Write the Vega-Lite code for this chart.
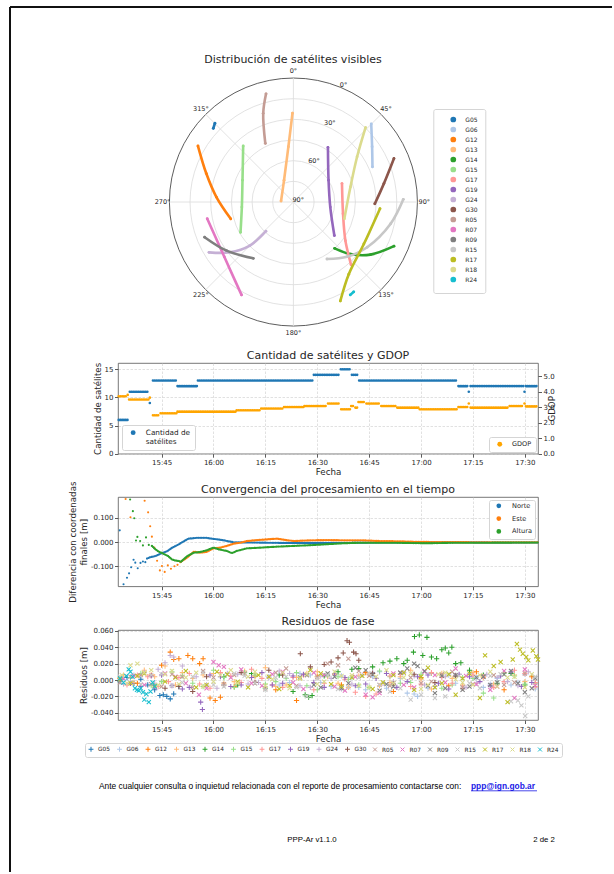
{
"$schema": "https://vega.github.io/schema/vega-lite/v6.json",
"background": "white",
"padding": {"left": 9, "top": 6, "right": 0, "bottom": 0},
"bounds": "flush",
"spacing": 43,
"config": {
 "font": "DejaVu Sans",
 "view": {"stroke": "#555555", "strokeWidth": 0.8},
 "axis": {"labelFontSize": 7, "titleFontSize": 8.7, "titleFontWeight": "normal", "labelColor": "#262626", "titleColor": "#262626", "gridColor": "#cccccc", "gridDash": [2.5, 1.5], "gridWidth": 0.6, "tickColor": "#333333", "tickSize": 3.5, "tickWidth": 0.8, "domain": false, "labelPadding": 1.5, "titlePadding": 2, "labelFlush": false},
 "title": {"fontSize": 11, "fontWeight": "normal", "color": "#262626", "offset": 3, "frame": "group"},
 "legend": {"titleFontSize": 7, "labelFontSize": 7, "labelColor": "#262626", "fillColor": "white", "strokeColor": "#d5d5d5", "cornerRadius": 2, "padding": 4}
},
"resolve": {"scale": {"color": "independent", "stroke": "independent", "shape": "independent"}, "legend": {"color": "independent", "shape": "independent"}},
"datasets": {
 "rings": [{"z": 15}, {"z": 30}, {"z": 45}, {"z": 60}, {"z": 75}, {"z": 90}],
 "spokes": [{"az": 0}, {"az": 45}, {"az": 90}, {"az": 135}],
 "alab": [{"t": "0°", "az": 0}, {"t": "45°", "az": 45}, {"t": "90°", "az": 90}, {"t": "135°", "az": 135}, {"t": "180°", "az": 180}, {"t": "225°", "az": 225}, {"t": "270°", "az": 270}, {"t": "315°", "az": 315}],
 "elab": [{"t": "0°", "el": 0}, {"t": "30°", "el": 30}, {"t": "60°", "el": 60}, {"t": "90°", "el": 90}],
 "tracks": [
  {"s":"G05","i":0,"az":312.6,"el":11},{"s":"G05","i":1,"az":315.1,"el":9.3},
  {"s":"G06","i":0,"az":44.9,"el":10},{"s":"G06","i":1,"az":54.9,"el":20.2},{"s":"G06","i":2,"az":66.0,"el":27.2},
  {"s":"G12","i":0,"az":300.4,"el":9.7},{"s":"G12","i":1,"az":288.1,"el":23.5},{"s":"G12","i":2,"az":273.7,"el":34},{"s":"G12","i":3,"az":255.0,"el":42.9},
  {"s":"G13","i":0,"az":359.4,"el":25.5},{"s":"G13","i":1,"az":354.8,"el":49.7},{"s":"G13","i":2,"az":336.7,"el":72.8},{"s":"G13","i":3,"az":274.6,"el":81},
  {"s":"G14","i":0,"az":138.3,"el":45},{"s":"G14","i":1,"az":132.4,"el":34},{"s":"G14","i":2,"az":124.3,"el":22.3},{"s":"G14","i":3,"az":113.7,"el":10.3},
  {"s":"G15","i":0,"az":318.1,"el":35.4},{"s":"G15","i":1,"az":293.2,"el":49.8},{"s":"G15","i":2,"az":264.4,"el":52.4},{"s":"G15","i":3,"az":240.3,"el":45.8},
  {"s":"G17","i":0,"az":69.2,"el":52.3},{"s":"G17","i":1,"az":103.3,"el":53},{"s":"G17","i":2,"az":126.6,"el":43},{"s":"G17","i":3,"az":137.4,"el":28.2},
  {"s":"G19","i":0,"az":32.3,"el":43.1},{"s":"G19","i":1,"az":58.2,"el":60},{"s":"G19","i":2,"az":97.8,"el":63},{"s":"G19","i":3,"az":129.3,"el":51.6},
  {"s":"G24","i":0,"az":223.3,"el":60.9},{"s":"G24","i":1,"az":225,"el":45.3},{"s":"G24","i":2,"az":231.7,"el":31.1},{"s":"G24","i":3,"az":239.2,"el":18.7},
  {"s":"G30","i":0,"az":66.6,"el":10.5},{"s":"G30","i":1,"az":78.5,"el":23},{"s":"G30","i":2,"az":91.2,"el":30.9},
  {"s":"R05","i":0,"az":345.8,"el":9},{"s":"R05","i":1,"az":341.2,"el":22},{"s":"R05","i":2,"az":334.4,"el":42.8},
  {"s":"R07","i":0,"az":259,"el":26.3},{"s":"R07","i":1,"az":231.6,"el":26},{"s":"R07","i":2,"az":209.2,"el":12.8},
  {"s":"R09","i":0,"az":248.4,"el":20.7},{"s":"R09","i":1,"az":234,"el":30},{"s":"R09","i":2,"az":215.5,"el":39.8},
  {"s":"R15","i":0,"az":88.6,"el":10.2},{"s":"R15","i":1,"az":102.6,"el":17.7},{"s":"R15","i":2,"az":121.5,"el":27.2},{"s":"R15","i":3,"az":135.5,"el":34.4},{"s":"R15","i":4,"az":149.5,"el":42},
  {"s":"R17","i":0,"az":94.4,"el":27},{"s":"R17","i":1,"az":120.8,"el":30.5},{"s":"R17","i":2,"az":142.5,"el":24},{"s":"R17","i":3,"az":154.6,"el":10.6},
  {"s":"R18","i":0,"az":44.1,"el":14.8},{"s":"R18","i":1,"az":54.6,"el":33.3},{"s":"R18","i":2,"az":75.2,"el":47.2},{"s":"R18","i":3,"az":108.2,"el":51.1},
  {"s":"R24","i":0,"az":148.5,"el":11},{"s":"R24","i":1,"az":146.1,"el":11.5}
 ],
 "count": [
  {"m":932.6,"m2":935.5,"n":6},{"m":935.8,"m2":941.2,"n":11},{"m":941.6,"m2":941.6,"n":9},{"m":942.5,"m2":949.3,"n":13},
  {"m":949.6,"m2":955.2,"n":12},{"m":955.5,"m2":988.7,"n":13},{"m":989.0,"m2":996.5,"n":14},{"m":996.8,"m2":999.6,"n":15},
  {"m":1000.0,"m2":1001.8,"n":14},{"m":1002.1,"m2":1030.5,"n":13},{"m":1030.8,"m2":1033.5,"n":12},{"m":1033.8,"m2":1033.8,"n":11},
  {"m":1034.3,"m2":1049.6,"n":12},{"m":1049.9,"m2":1049.9,"n":11},{"m":1050.3,"m2":1053.8,"n":12}
 ],
 "gdop": [
  {"m":932.6,"m2":934.9,"g":3.71},{"m":935.2,"m2":935.2,"g":3.8},{"m":935.6,"m2":941.2,"g":3.5},{"m":941.6,"m2":941.6,"g":3.62},
  {"m":942.5,"m2":944.4,"g":2.48},{"m":944.7,"m2":949.3,"g":2.61},{"m":949.6,"m2":966.4,"g":2.72},{"m":966.7,"m2":973.5,"g":2.81},
  {"m":973.8,"m2":980.1,"g":2.92},{"m":980.4,"m2":986.0,"g":3.02},{"m":986.3,"m2":992.8,"g":3.08},{"m":993.1,"m2":996.6,"g":3.24},
  {"m":996.9,"m2":999.5,"g":2.87},{"m":999.8,"m2":1000.8,"g":3.08},{"m":1001.0,"m2":1001.6,"g":2.98},{"m":1001.9,"m2":1003.9,"g":3.34},
  {"m":1004.2,"m2":1008.2,"g":3.24},{"m":1008.5,"m2":1012.8,"g":3.08},{"m":1013.1,"m2":1019.3,"g":2.98},{"m":1019.6,"m2":1030.5,"g":2.87},
  {"m":1030.8,"m2":1033.5,"g":3.02},{"m":1033.8,"m2":1033.8,"g":3.24},{"m":1034.3,"m2":1045.3,"g":2.98},{"m":1045.6,"m2":1049.6,"g":3.08},
  {"m":1049.9,"m2":1049.9,"g":3.24},{"m":1050.3,"m2":1053.8,"g":3.06}
 ],
 "convp": [
  {"c":"Norte","m":932.9,"v":0.048},{"c":"Norte","m":934.0,"v":-0.174},{"c":"Norte","m":935.0,"v":-0.147},{"c":"Norte","m":935.6,"v":-0.129},
  {"c":"Norte","m":936.2,"v":-0.104},{"c":"Norte","m":936.9,"v":-0.073},{"c":"Norte","m":937.4,"v":-0.085},{"c":"Norte","m":938.1,"v":-0.108},
  {"c":"Norte","m":938.9,"v":-0.086},{"c":"Norte","m":939.6,"v":-0.08},{"c":"Norte","m":940.3,"v":-0.083},
  {"c":"Este","m":934.6,"v":0.177},{"c":"Este","m":936.0,"v":0.102},{"c":"Este","m":940.1,"v":0.17},{"c":"Este","m":941.1,"v":0.122},
  {"c":"Este","m":941.7,"v":0.065},{"c":"Este","m":942.2,"v":0.022},{"c":"Este","m":942.9,"v":-0.023},{"c":"Este","m":943.7,"v":-0.077},
  {"c":"Este","m":944.5,"v":-0.117},{"c":"Este","m":945.1,"v":-0.099},{"c":"Este","m":945.9,"v":-0.123},{"c":"Este","m":946.8,"v":-0.096},
  {"c":"Este","m":947.7,"v":-0.11},{"c":"Este","m":948.7,"v":-0.1},{"c":"Este","m":949.6,"v":-0.094},{"c":"Este","m":950.4,"v":-0.083},
  {"c":"Altura","m":935.9,"v":0.175},{"c":"Altura","m":936.7,"v":0.127},{"c":"Altura","m":937.1,"v":0.098},{"c":"Altura","m":937.6,"v":0.006},
  {"c":"Altura","m":938.0,"v":0.021},{"c":"Altura","m":938.8,"v":0.004},{"c":"Altura","m":939.6,"v":-0.014},{"c":"Altura","m":940.5,"v":0.019},
  {"c":"Altura","m":941.3,"v":-0.012}
 ],
 "convl": [
  {"c":"Norte","m":940.8,"v":-0.068},{"c":"Norte","m":941.8,"v":-0.062},{"c":"Norte","m":943.2,"v":-0.058},{"c":"Norte","m":944.6,"v":-0.049},
  {"c":"Norte","m":946.6,"v":-0.038},{"c":"Norte","m":948.0,"v":-0.024},{"c":"Norte","m":949.9,"v":-0.01},{"c":"Norte","m":951.4,"v":0.003},
  {"c":"Norte","m":952.8,"v":0.014},{"c":"Norte","m":955.2,"v":0.017},{"c":"Norte","m":958.1,"v":0.017},{"c":"Norte","m":960.0,"v":0.013},
  {"c":"Norte","m":962.9,"v":0.007},{"c":"Norte","m":965.8,"v":-0.001},{"c":"Norte","m":970.6,"v":-0.002},{"c":"Norte","m":975.5,"v":-0.003},
  {"c":"Norte","m":981.2,"v":-0.004},{"c":"Norte","m":990,"v":-0.004},{"c":"Norte","m":1000,"v":-0.003},{"c":"Norte","m":1010,"v":-0.002},
  {"c":"Norte","m":1020,"v":-0.001},{"c":"Norte","m":1030,"v":-0.001},{"c":"Norte","m":1040,"v":-0.002},{"c":"Norte","m":1053.8,"v":-0.002},
  {"c":"Este","m":950.6,"v":-0.081},{"c":"Este","m":952.4,"v":-0.064},{"c":"Este","m":954.3,"v":-0.04},{"c":"Este","m":956.2,"v":-0.044},
  {"c":"Este","m":958.1,"v":-0.04},{"c":"Este","m":960.0,"v":-0.026},{"c":"Este","m":962.0,"v":-0.023},{"c":"Este","m":963.9,"v":-0.016},
  {"c":"Este","m":965.8,"v":-0.007},{"c":"Este","m":967.8,"v":-0.003},{"c":"Este","m":969.7,"v":0.004},{"c":"Este","m":972.6,"v":0.008},
  {"c":"Este","m":975.5,"v":0.011},{"c":"Este","m":978.4,"v":0.014},{"c":"Este","m":981.0,"v":0.008},{"c":"Este","m":983.2,"v":0.004},
  {"c":"Este","m":988,"v":0.007},{"c":"Este","m":993,"v":0.008},{"c":"Este","m":998,"v":0.007},{"c":"Este","m":1003,"v":0.007},
  {"c":"Este","m":1008,"v":0.004},{"c":"Este","m":1013,"v":0.003},{"c":"Este","m":1018,"v":0.001},{"c":"Este","m":1023,"v":0.0},
  {"c":"Este","m":1035,"v":-0.001},{"c":"Este","m":1053.8,"v":-0.001},
  {"c":"Altura","m":942.2,"v":-0.016},{"c":"Altura","m":943.2,"v":-0.03},{"c":"Altura","m":944.2,"v":-0.04},{"c":"Altura","m":945.1,"v":-0.045},
  {"c":"Altura","m":945.9,"v":-0.051},{"c":"Altura","m":946.9,"v":-0.058},{"c":"Altura","m":948.0,"v":-0.072},{"c":"Altura","m":948.9,"v":-0.076},
  {"c":"Altura","m":949.9,"v":-0.078},{"c":"Altura","m":950.6,"v":-0.081},{"c":"Altura","m":952.4,"v":-0.058},{"c":"Altura","m":954.3,"v":-0.044},
  {"c":"Altura","m":956.2,"v":-0.041},{"c":"Altura","m":958.1,"v":-0.034},{"c":"Altura","m":960.0,"v":-0.023},{"c":"Altura","m":961.5,"v":-0.03},
  {"c":"Altura","m":963.9,"v":-0.037},{"c":"Altura","m":965.3,"v":-0.046},{"c":"Altura","m":966.7,"v":-0.037},{"c":"Altura","m":969.7,"v":-0.026},
  {"c":"Altura","m":973.6,"v":-0.023},{"c":"Altura","m":978.4,"v":-0.019},{"c":"Altura","m":983.2,"v":-0.016},{"c":"Altura","m":988,"v":-0.013},
  {"c":"Altura","m":992.8,"v":-0.009},{"c":"Altura","m":997.6,"v":-0.005},{"c":"Altura","m":1002.4,"v":-0.003},{"c":"Altura","m":1012,"v":-0.003},
  {"c":"Altura","m":1021.6,"v":-0.005},{"c":"Altura","m":1030,"v":-0.003},{"c":"Altura","m":1040,"v":-0.003},{"c":"Altura","m":1053.8,"v":-0.002}
 ],
 "res": [
  {"s":"G05","m":933,"r":-0.002},{"s":"G05","m":935,"r":0.003},{"s":"G05","m":937,"r":-0.004},{"s":"G05","m":939,"r":0.001},{"s":"G05","m":941,"r":-0.006},{"s":"G05","m":943,"r":-0.012},{"s":"G05","m":944.5,"r":-0.019},{"s":"G05","m":945.5,"r":-0.018},{"s":"G05","m":946.5,"r":-0.02},{"s":"G05","m":947.5,"r":-0.023},{"s":"G05","m":948.5,"r":-0.017},{"s":"G05","m":950,"r":-0.008},
  {"s":"G06","m":976,"r":0.004},{"s":"G06","m":982,"r":-0.003},{"s":"G06","m":988,"r":0.006},{"s":"G06","m":994,"r":-0.008},{"s":"G06","m":1000,"r":0.003},{"s":"G06","m":1004,"r":-0.012},{"s":"G06","m":1008,"r":0.01},{"s":"G06","m":1012,"r":-0.006},{"s":"G06","m":1016,"r":-0.016},{"s":"G06","m":1019,"r":-0.02},{"s":"G06","m":1022,"r":-0.01},{"s":"G06","m":1026,"r":0.005},{"s":"G06","m":1030,"r":-0.004},{"s":"G06","m":1034,"r":0.008},{"s":"G06","m":1038,"r":-0.009},{"s":"G06","m":1042,"r":0.002},{"s":"G06","m":1046,"r":-0.006},{"s":"G06","m":1050,"r":0.007},{"s":"G06","m":1053,"r":-0.011},
  {"s":"G06","m":979,"r":-0.006},{"s":"G06","m":985,"r":0.008},{"s":"G06","m":991,"r":-0.003},{"s":"G06","m":997,"r":0.005},{"s":"G06","m":1002,"r":-0.009},{"s":"G06","m":1006,"r":0.004},{"s":"G06","m":1010,"r":-0.01},{"s":"G06","m":1014,"r":0.002},{"s":"G06","m":1018,"r":-0.017},{"s":"G06","m":1024,"r":-0.008},{"s":"G06","m":1028,"r":0.006},{"s":"G06","m":1032,"r":-0.007},{"s":"G06","m":1036,"r":0.003},{"s":"G06","m":1040,"r":-0.005},{"s":"G06","m":1044,"r":0.009},{"s":"G06","m":1048,"r":-0.003},{"s":"G06","m":1052,"r":0.005},
  {"s":"G12","m":933,"r":0.002},{"s":"G12","m":938,"r":-0.004},{"s":"G12","m":942,"r":0.006},{"s":"G12","m":945,"r":0.018},{"s":"G12","m":947.5,"r":0.034},{"s":"G12","m":948.5,"r":0.025},{"s":"G12","m":950,"r":0.026},{"s":"G12","m":952.6,"r":0.03},{"s":"G12","m":954,"r":0.026},{"s":"G12","m":956,"r":0.02},{"s":"G12","m":957,"r":0.026},{"s":"G12","m":959,"r":-0.022},{"s":"G12","m":960.5,"r":-0.025},{"s":"G12","m":962,"r":-0.021},{"s":"G12","m":966,"r":-0.008},{"s":"G12","m":972,"r":0.005},{"s":"G12","m":978,"r":-0.012},{"s":"G12","m":984,"r":-0.025},{"s":"G12","m":990,"r":0.004},{"s":"G12","m":997,"r":-0.006},{"s":"G12","m":1004,"r":0.009},{"s":"G12","m":1012,"r":-0.014},{"s":"G12","m":1020,"r":0.003},{"s":"G12","m":1028,"r":-0.007},{"s":"G12","m":1036,"r":0.01},{"s":"G12","m":1044,"r":-0.012},{"s":"G12","m":1052,"r":0.004},
  {"s":"G13","m":934,"r":0.006},{"s":"G13","m":940,"r":0.012},{"s":"G13","m":946,"r":0.017},{"s":"G13","m":951,"r":0.009},{"s":"G13","m":957,"r":0.006},{"s":"G13","m":963,"r":-0.004},{"s":"G13","m":969,"r":0.011},{"s":"G13","m":975,"r":0.015},{"s":"G13","m":981,"r":-0.006},{"s":"G13","m":987,"r":0.008},{"s":"G13","m":993,"r":0.004},{"s":"G13","m":999,"r":-0.009},{"s":"G13","m":1005,"r":0.007},{"s":"G13","m":1011,"r":-0.003},{"s":"G13","m":1017,"r":0.012},{"s":"G13","m":1023,"r":-0.011},{"s":"G13","m":1029,"r":0.002},{"s":"G13","m":1035,"r":0.009},{"s":"G13","m":1041,"r":-0.005},{"s":"G13","m":1047,"r":0.006},{"s":"G13","m":1053,"r":-0.008},
  {"s":"G13","m":937,"r":-0.003},{"s":"G13","m":943,"r":0.004},{"s":"G13","m":949,"r":-0.006},{"s":"G13","m":954,"r":0.002},{"s":"G13","m":960,"r":0.008},{"s":"G13","m":966,"r":-0.002},{"s":"G13","m":972,"r":0.005},{"s":"G13","m":978,"r":-0.008},{"s":"G13","m":984,"r":0.003},{"s":"G13","m":990,"r":0.01},{"s":"G13","m":996,"r":-0.004},{"s":"G13","m":1002,"r":0.005},{"s":"G13","m":1008,"r":-0.007},{"s":"G13","m":1014,"r":0.004},{"s":"G13","m":1020,"r":0.001},{"s":"G13","m":1026,"r":0.008},{"s":"G13","m":1032,"r":-0.006},{"s":"G13","m":1038,"r":0.003},{"s":"G13","m":1044,"r":0.009},{"s":"G13","m":1050,"r":-0.002},
  {"s":"G14","m":963,"r":0.004},{"s":"G14","m":967,"r":-0.006},{"s":"G14","m":971,"r":0.008},{"s":"G14","m":975,"r":-0.01},{"s":"G14","m":979,"r":0.006},{"s":"G14","m":983,"r":-0.014},{"s":"G14","m":986.5,"r":-0.018},{"s":"G14","m":987.5,"r":-0.021},{"s":"G14","m":988.5,"r":-0.019},{"s":"G14","m":992,"r":0.005},{"s":"G14","m":996,"r":0.01},{"s":"G14","m":1000,"r":0.013},{"s":"G14","m":1002,"r":0.014},{"s":"G14","m":1006,"r":0.016},{"s":"G14","m":1009,"r":0.021},{"s":"G14","m":1011,"r":0.023},{"s":"G14","m":1013,"r":0.026},{"s":"G14","m":1015,"r":0.02},{"s":"G14","m":1016,"r":0.024},{"s":"G14","m":1017.8,"r":0.034},{"s":"G14","m":1018.1,"r":0.053},{"s":"G14","m":1019.5,"r":0.055},{"s":"G14","m":1020.5,"r":0.03},{"s":"G14","m":1021.7,"r":0.052},{"s":"G14","m":1023,"r":0.028},{"s":"G14","m":1024.5,"r":0.026},{"s":"G14","m":1026,"r":0.037},{"s":"G14","m":1027,"r":0.039},{"s":"G14","m":1028,"r":0.033},{"s":"G14","m":1028.9,"r":0.04},{"s":"G14","m":1030,"r":0.02},{"s":"G14","m":1031.5,"r":0.021},{"s":"G14","m":1034,"r":0.012},{"s":"G14","m":1038,"r":0.006},{"s":"G14","m":1042,"r":-0.004},{"s":"G14","m":1046,"r":0.008},{"s":"G14","m":1050,"r":-0.006},
  {"s":"G15","m":936,"r":0.003},{"s":"G15","m":942,"r":-0.007},{"s":"G15","m":948,"r":0.01},{"s":"G15","m":954,"r":-0.004},{"s":"G15","m":960,"r":0.012},{"s":"G15","m":966,"r":-0.009},{"s":"G15","m":972,"r":0.006},{"s":"G15","m":978,"r":-0.002},{"s":"G15","m":984,"r":0.009},{"s":"G15","m":990,"r":-0.012},{"s":"G15","m":996,"r":0.004},{"s":"G15","m":1002,"r":-0.006},{"s":"G15","m":1008,"r":0.011},{"s":"G15","m":1014,"r":-0.004},{"s":"G15","m":1020,"r":0.007},{"s":"G15","m":1026,"r":-0.01},{"s":"G15","m":1032,"r":0.003},{"s":"G15","m":1038,"r":-0.016},{"s":"G15","m":1041,"r":-0.022},{"s":"G15","m":1044,"r":0.008},{"s":"G15","m":1050,"r":-0.005},
  {"s":"G15","m":939,"r":0.008},{"s":"G15","m":945,"r":-0.002},{"s":"G15","m":951,"r":0.005},{"s":"G15","m":957,"r":-0.008},{"s":"G15","m":963,"r":0.003},{"s":"G15","m":969,"r":0.009},{"s":"G15","m":975,"r":-0.005},{"s":"G15","m":981,"r":0.002},{"s":"G15","m":987,"r":-0.007},{"s":"G15","m":993,"r":0.006},{"s":"G15","m":999,"r":0.001},{"s":"G15","m":1005,"r":-0.009},{"s":"G15","m":1011,"r":0.004},{"s":"G15","m":1017,"r":-0.003},{"s":"G15","m":1023,"r":0.008},{"s":"G15","m":1029,"r":-0.006},{"s":"G15","m":1035,"r":0.002},{"s":"G15","m":1047,"r":0.005},{"s":"G15","m":1053,"r":-0.004},
  {"s":"G17","m":935,"r":-0.006},{"s":"G17","m":941,"r":0.004},{"s":"G17","m":947,"r":-0.002},{"s":"G17","m":953,"r":0.008},{"s":"G17","m":959,"r":-0.01},{"s":"G17","m":965,"r":0.005},{"s":"G17","m":971,"r":0.013},{"s":"G17","m":977,"r":-0.006},{"s":"G17","m":983,"r":0.003},{"s":"G17","m":989,"r":-0.012},{"s":"G17","m":995,"r":0.007},{"s":"G17","m":1001,"r":-0.015},{"s":"G17","m":1004,"r":-0.02},{"s":"G17","m":1007,"r":-0.017},{"s":"G17","m":1011,"r":0.005},{"s":"G17","m":1017,"r":-0.008},{"s":"G17","m":1023,"r":0.009},{"s":"G17","m":1029,"r":-0.004},{"s":"G17","m":1035,"r":0.006},{"s":"G17","m":1041,"r":-0.009},{"s":"G17","m":1047,"r":0.012},{"s":"G17","m":1053,"r":-0.003},
  {"s":"G17","m":938,"r":0.006},{"s":"G17","m":944,"r":-0.008},{"s":"G17","m":950,"r":0.003},{"s":"G17","m":956,"r":-0.005},{"s":"G17","m":962,"r":0.009},{"s":"G17","m":968,"r":-0.003},{"s":"G17","m":974,"r":0.002},{"s":"G17","m":980,"r":-0.009},{"s":"G17","m":986,"r":0.006},{"s":"G17","m":992,"r":-0.004},{"s":"G17","m":998,"r":0.001},{"s":"G17","m":1014,"r":0.007},{"s":"G17","m":1020,"r":-0.005},{"s":"G17","m":1026,"r":0.003},{"s":"G17","m":1032,"r":-0.01},{"s":"G17","m":1038,"r":0.004},{"s":"G17","m":1044,"r":-0.002},{"s":"G17","m":1050,"r":0.008},
  {"s":"G19","m":933.5,"r":0.001},{"s":"G19","m":939,"r":-0.008},{"s":"G19","m":945,"r":0.006},{"s":"G19","m":951,"r":-0.011},{"s":"G19","m":953,"r":-0.009},{"s":"G19","m":956.3,"r":-0.027},{"s":"G19","m":956.8,"r":-0.036},{"s":"G19","m":962,"r":0.004},{"s":"G19","m":968,"r":-0.006},{"s":"G19","m":974,"r":0.009},{"s":"G19","m":980,"r":-0.004},{"s":"G19","m":986,"r":0.007},{"s":"G19","m":992,"r":-0.009},{"s":"G19","m":998,"r":0.003},{"s":"G19","m":1004,"r":-0.005},{"s":"G19","m":1010,"r":0.008},{"s":"G19","m":1016,"r":-0.002},{"s":"G19","m":1022,"r":0.006},{"s":"G19","m":1028,"r":-0.011},{"s":"G19","m":1034,"r":0.004},{"s":"G19","m":1040,"r":-0.007},{"s":"G19","m":1046,"r":0.01},{"s":"G19","m":1052,"r":-0.003},
  {"s":"G19","m":936,"r":-0.004},{"s":"G19","m":942,"r":0.005},{"s":"G19","m":948,"r":-0.007},{"s":"G19","m":959,"r":0.006},{"s":"G19","m":965,"r":-0.008},{"s":"G19","m":971,"r":0.003},{"s":"G19","m":977,"r":-0.006},{"s":"G19","m":983,"r":0.005},{"s":"G19","m":989,"r":-0.003},{"s":"G19","m":995,"r":0.008},{"s":"G19","m":1001,"r":-0.007},{"s":"G19","m":1007,"r":0.002},{"s":"G19","m":1013,"r":-0.009},{"s":"G19","m":1019,"r":0.004},{"s":"G19","m":1025,"r":-0.004},{"s":"G19","m":1031,"r":0.007},{"s":"G19","m":1037,"r":-0.002},{"s":"G19","m":1043,"r":0.005},{"s":"G19","m":1049,"r":-0.008},
  {"s":"G24","m":934,"r":-0.005},{"s":"G24","m":940,"r":0.009},{"s":"G24","m":944,"r":0.013},{"s":"G24","m":946,"r":0.021},{"s":"G24","m":947.5,"r":0.03},{"s":"G24","m":948.5,"r":0.028},{"s":"G24","m":951,"r":0.017},{"s":"G24","m":955,"r":0.004},{"s":"G24","m":961,"r":-0.01},{"s":"G24","m":967,"r":0.007},{"s":"G24","m":973,"r":-0.003},{"s":"G24","m":979,"r":0.011},{"s":"G24","m":985,"r":-0.007},{"s":"G24","m":991,"r":0.005},{"s":"G24","m":997,"r":-0.011},{"s":"G24","m":1003,"r":0.006},{"s":"G24","m":1009,"r":-0.004},{"s":"G24","m":1015,"r":0.009},{"s":"G24","m":1021,"r":-0.006},{"s":"G24","m":1027,"r":0.004},{"s":"G24","m":1033,"r":-0.009},{"s":"G24","m":1039,"r":0.007},{"s":"G24","m":1045,"r":-0.002},{"s":"G24","m":1051,"r":0.01},
  {"s":"G24","m":937,"r":0.006},{"s":"G24","m":943,"r":-0.004},{"s":"G24","m":958,"r":-0.006},{"s":"G24","m":964,"r":0.008},{"s":"G24","m":970,"r":-0.005},{"s":"G24","m":976,"r":0.003},{"s":"G24","m":982,"r":0.008},{"s":"G24","m":988,"r":-0.009},{"s":"G24","m":994,"r":0.002},{"s":"G24","m":1000,"r":-0.005},{"s":"G24","m":1006,"r":0.009},{"s":"G24","m":1012,"r":-0.002},{"s":"G24","m":1018,"r":0.005},{"s":"G24","m":1024,"r":-0.008},{"s":"G24","m":1030,"r":0.006},{"s":"G24","m":1036,"r":-0.004},{"s":"G24","m":1042,"r":0.003},{"s":"G24","m":1048,"r":-0.007},
  {"s":"G30","m":946,"r":-0.01},{"s":"G30","m":950,"r":-0.008},{"s":"G30","m":954,"r":-0.014},{"s":"G30","m":958,"r":0.004},{"s":"G30","m":963,"r":-0.006},{"s":"G30","m":968,"r":0.009},{"s":"G30","m":972,"r":-0.003},{"s":"G30","m":976,"r":0.012},{"s":"G30","m":980,"r":0.006},{"s":"G30","m":985.1,"r":0.032},{"s":"G30","m":988,"r":0.016},{"s":"G30","m":992,"r":0.019},{"s":"G30","m":994,"r":0.022},{"s":"G30","m":996,"r":0.027},{"s":"G30","m":997.5,"r":0.033},{"s":"G30","m":998.6,"r":0.048},{"s":"G30","m":999.3,"r":0.046},{"s":"G30","m":1000.5,"r":0.034},{"s":"G30","m":1001.2,"r":0.032},{"s":"G30","m":1002,"r":0.024},{"s":"G30","m":1006,"r":0.008},{"s":"G30","m":1012,"r":-0.005},{"s":"G30","m":1018,"r":0.007},{"s":"G30","m":1024,"r":-0.003},{"s":"G30","m":1030,"r":0.005},
  {"s":"R05","m":933,"r":-0.003},{"s":"R05","m":939,"r":0.006},{"s":"R05","m":945,"r":-0.008},{"s":"R05","m":951,"r":0.004},{"s":"R05","m":957,"r":0.011},{"s":"R05","m":963,"r":-0.005},{"s":"R05","m":969,"r":0.008},{"s":"R05","m":975,"r":-0.01},{"s":"R05","m":981,"r":0.014},{"s":"R05","m":987,"r":0.006},{"s":"R05","m":993,"r":0.02},{"s":"R05","m":996,"r":0.018},{"s":"R05","m":999,"r":0.026},{"s":"R05","m":1002,"r":0.011},{"s":"R05","m":1008,"r":-0.006},{"s":"R05","m":1014,"r":0.009},{"s":"R05","m":1020,"r":-0.004},{"s":"R05","m":1026,"r":0.007},{"s":"R05","m":1032,"r":-0.009},{"s":"R05","m":1038,"r":0.004},{"s":"R05","m":1044,"r":-0.006},{"s":"R05","m":1050,"r":0.008},
  {"s":"R05","m":936,"r":0.004},{"s":"R05","m":942,"r":-0.005},{"s":"R05","m":948,"r":0.007},{"s":"R05","m":954,"r":-0.009},{"s":"R05","m":960,"r":0.003},{"s":"R05","m":966,"r":0.006},{"s":"R05","m":972,"r":-0.004},{"s":"R05","m":978,"r":0.009},{"s":"R05","m":984,"r":-0.007},{"s":"R05","m":990,"r":0.004},{"s":"R05","m":1005,"r":0.005},{"s":"R05","m":1011,"r":-0.007},{"s":"R05","m":1017,"r":0.003},{"s":"R05","m":1023,"r":-0.002},{"s":"R05","m":1029,"r":0.01},{"s":"R05","m":1035,"r":-0.005},{"s":"R05","m":1041,"r":0.006},{"s":"R05","m":1047,"r":-0.003},
  {"s":"R07","m":934,"r":0.002},{"s":"R07","m":940,"r":-0.006},{"s":"R07","m":946,"r":0.008},{"s":"R07","m":952,"r":-0.004},{"s":"R07","m":955.8,"r":-0.018},{"s":"R07","m":960,"r":0.022},{"s":"R07","m":961.5,"r":0.018},{"s":"R07","m":963,"r":0.016},{"s":"R07","m":968,"r":0.013},{"s":"R07","m":974,"r":-0.007},{"s":"R07","m":980,"r":0.01},{"s":"R07","m":986,"r":-0.011},{"s":"R07","m":992,"r":0.006},{"s":"R07","m":998,"r":-0.013},{"s":"R07","m":1004,"r":-0.018},{"s":"R07","m":1006,"r":-0.021},{"s":"R07","m":1008,"r":-0.016},{"s":"R07","m":1012,"r":0.008},{"s":"R07","m":1018,"r":-0.009},{"s":"R07","m":1024,"r":0.006},{"s":"R07","m":1030,"r":0.014},{"s":"R07","m":1036,"r":-0.005},{"s":"R07","m":1040,"r":-0.012},{"s":"R07","m":1044,"r":0.011},{"s":"R07","m":1047,"r":-0.022},{"s":"R07","m":1050,"r":0.013},{"s":"R07","m":1053,"r":-0.007},
  {"s":"R07","m":937,"r":0.005},{"s":"R07","m":943,"r":-0.009},{"s":"R07","m":949,"r":0.004},{"s":"R07","m":958,"r":-0.01},{"s":"R07","m":965,"r":0.003},{"s":"R07","m":971,"r":-0.004},{"s":"R07","m":977,"r":0.007},{"s":"R07","m":983,"r":-0.003},{"s":"R07","m":989,"r":0.009},{"s":"R07","m":995,"r":-0.008},{"s":"R07","m":1001,"r":0.004},{"s":"R07","m":1015,"r":-0.006},{"s":"R07","m":1021,"r":0.01},{"s":"R07","m":1027,"r":-0.003},{"s":"R07","m":1033,"r":0.005},{"s":"R07","m":1042,"r":-0.008},
  {"s":"R09","m":985,"r":0.003},{"s":"R09","m":989,"r":-0.006},{"s":"R09","m":993,"r":0.008},{"s":"R09","m":997,"r":-0.01},{"s":"R09","m":1001,"r":0.015},{"s":"R09","m":1004,"r":0.012},{"s":"R09","m":1008,"r":-0.013},{"s":"R09","m":1012,"r":-0.008},{"s":"R09","m":1016,"r":0.014},{"s":"R09","m":1018,"r":0.02},{"s":"R09","m":1019,"r":0.017},{"s":"R09","m":1021,"r":0.011},{"s":"R09","m":1024,"r":-0.016},{"s":"R09","m":1027,"r":-0.01},{"s":"R09","m":1030,"r":0.006},{"s":"R09","m":1034,"r":-0.008},{"s":"R09","m":1038,"r":0.004},{"s":"R09","m":1042,"r":-0.003},{"s":"R09","m":1046,"r":0.011},{"s":"R09","m":1050,"r":-0.015},{"s":"R09","m":1053,"r":0.002},
  {"s":"R09","m":987,"r":0.006},{"s":"R09","m":991,"r":-0.009},{"s":"R09","m":995,"r":0.004},{"s":"R09","m":999,"r":-0.004},{"s":"R09","m":1006,"r":0.007},{"s":"R09","m":1010,"r":-0.005},{"s":"R09","m":1014,"r":0.009},{"s":"R09","m":1022,"r":-0.007},{"s":"R09","m":1026,"r":0.005},{"s":"R09","m":1032,"r":-0.012},{"s":"R09","m":1036,"r":0.003},{"s":"R09","m":1040,"r":-0.006},{"s":"R09","m":1044,"r":0.007},{"s":"R09","m":1048,"r":-0.004},{"s":"R09","m":1052,"r":-0.01},
  {"s":"R15","m":933,"r":0.004},{"s":"R15","m":939,"r":-0.005},{"s":"R15","m":945,"r":0.007},{"s":"R15","m":951,"r":-0.003},{"s":"R15","m":957,"r":0.009},{"s":"R15","m":963,"r":-0.008},{"s":"R15","m":969,"r":0.005},{"s":"R15","m":975,"r":-0.012},{"s":"R15","m":981,"r":0.004},{"s":"R15","m":987,"r":-0.02},{"s":"R15","m":993,"r":0.006},{"s":"R15","m":999,"r":-0.009},{"s":"R15","m":1005,"r":0.008},{"s":"R15","m":1011,"r":-0.014},{"s":"R15","m":1017,"r":-0.024},{"s":"R15","m":1020,"r":-0.018},{"s":"R15","m":1024,"r":-0.022},{"s":"R15","m":1027,"r":-0.02},{"s":"R15","m":1031,"r":0.005},{"s":"R15","m":1037,"r":-0.01},{"s":"R15","m":1043,"r":0.007},{"s":"R15","m":1046,"r":-0.026},{"s":"R15","m":1048,"r":-0.025},{"s":"R15","m":1049,"r":-0.031},{"s":"R15","m":1050.1,"r":-0.044},{"s":"R15","m":1051,"r":-0.02},{"s":"R15","m":1053,"r":0.004},
  {"s":"R15","m":936,"r":-0.003},{"s":"R15","m":942,"r":0.006},{"s":"R15","m":948,"r":-0.007},{"s":"R15","m":954,"r":0.004},{"s":"R15","m":960,"r":-0.006},{"s":"R15","m":966,"r":0.008},{"s":"R15","m":972,"r":-0.004},{"s":"R15","m":978,"r":0.003},{"s":"R15","m":984,"r":-0.009},{"s":"R15","m":990,"r":0.002},{"s":"R15","m":996,"r":-0.011},{"s":"R15","m":1002,"r":0.003},{"s":"R15","m":1008,"r":-0.006},{"s":"R15","m":1014,"r":-0.01},{"s":"R15","m":1034,"r":-0.004},{"s":"R15","m":1040,"r":0.005},
  {"s":"R17","m":933,"r":0.001},{"s":"R17","m":936,"r":-0.004},{"s":"R17","m":940,"r":0.008},{"s":"R17","m":946,"r":-0.002},{"s":"R17","m":952,"r":0.011},{"s":"R17","m":958,"r":-0.006},{"s":"R17","m":964,"r":0.007},{"s":"R17","m":970,"r":-0.009},{"s":"R17","m":976,"r":0.004},{"s":"R17","m":982,"r":-0.007},{"s":"R17","m":988,"r":0.012},{"s":"R17","m":994,"r":-0.005},{"s":"R17","m":1000,"r":0.003},{"s":"R17","m":1006,"r":-0.011},{"s":"R17","m":1012,"r":0.006},{"s":"R17","m":1018,"r":-0.012},{"s":"R17","m":1022,"r":0.015},{"s":"R17","m":1026,"r":-0.004},{"s":"R17","m":1030,"r":-0.018},{"s":"R17","m":1034,"r":0.008},{"s":"R17","m":1037,"r":-0.022},{"s":"R17","m":1038.5,"r":0.03},{"s":"R17","m":1041,"r":0.017},{"s":"R17","m":1043,"r":0.022},{"s":"R17","m":1045,"r":-0.027},{"s":"R17","m":1046.5,"r":0.025},{"s":"R17","m":1047.7,"r":0.044},{"s":"R17","m":1048.6,"r":0.037},{"s":"R17","m":1049.4,"r":0.032},{"s":"R17","m":1050.4,"r":0.028},{"s":"R17","m":1051,"r":0.024},{"s":"R17","m":1052.3,"r":0.036},{"s":"R17","m":1053.3,"r":0.029},{"s":"R17","m":1053.8,"r":0.025},
  {"s":"R17","m":938,"r":0.005},{"s":"R17","m":943,"r":-0.007},{"s":"R17","m":949,"r":0.003},{"s":"R17","m":955,"r":-0.009},{"s":"R17","m":961,"r":0.01},{"s":"R17","m":967,"r":-0.002},{"s":"R17","m":973,"r":0.006},{"s":"R17","m":979,"r":-0.011},{"s":"R17","m":985,"r":0.002},{"s":"R17","m":991,"r":0.008},{"s":"R17","m":997,"r":-0.008},{"s":"R17","m":1003,"r":0.005},{"s":"R17","m":1009,"r":-0.003},{"s":"R17","m":1015,"r":0.009},{"s":"R17","m":1020,"r":0.004},{"s":"R17","m":1024,"r":-0.009},{"s":"R17","m":1028,"r":0.007},{"s":"R17","m":1032,"r":0.002},
  {"s":"R18","m":933.5,"r":0.006},{"s":"R18","m":936,"r":0.018},{"s":"R18","m":938,"r":0.02},{"s":"R18","m":942,"r":0.012},{"s":"R18","m":946,"r":0.007},{"s":"R18","m":950,"r":-0.005},{"s":"R18","m":955,"r":0.009},{"s":"R18","m":960,"r":-0.002},{"s":"R18","m":965,"r":0.012},{"s":"R18","m":970,"r":0.004},{"s":"R18","m":975,"r":-0.007},{"s":"R18","m":980,"r":0.009},{"s":"R18","m":985,"r":0.002},{"s":"R18","m":990,"r":-0.005},{"s":"R18","m":995,"r":0.01},{"s":"R18","m":1000,"r":0.006},{"s":"R18","m":1005,"r":-0.009},{"s":"R18","m":1010,"r":0.012},{"s":"R18","m":1015,"r":0.003},{"s":"R18","m":1020,"r":-0.011},{"s":"R18","m":1025,"r":0.007},{"s":"R18","m":1030,"r":0.001},{"s":"R18","m":1035,"r":-0.006},{"s":"R18","m":1040,"r":0.01},{"s":"R18","m":1045,"r":0.003},{"s":"R18","m":1050,"r":-0.009},
  {"s":"R18","m":935,"r":-0.004},{"s":"R18","m":940,"r":0.009},{"s":"R18","m":944,"r":-0.006},{"s":"R18","m":948,"r":0.011},{"s":"R18","m":952,"r":0.003},{"s":"R18","m":957,"r":-0.008},{"s":"R18","m":962,"r":0.006},{"s":"R18","m":967,"r":-0.004},{"s":"R18","m":972,"r":0.01},{"s":"R18","m":977,"r":0.001},{"s":"R18","m":982,"r":-0.01},{"s":"R18","m":987,"r":0.007},{"s":"R18","m":992,"r":-0.002},{"s":"R18","m":997,"r":0.005},{"s":"R18","m":1002,"r":-0.007},{"s":"R18","m":1007,"r":0.004},{"s":"R18","m":1012,"r":-0.004},{"s":"R18","m":1017,"r":0.008},{"s":"R18","m":1022,"r":-0.006},{"s":"R18","m":1027,"r":0.009},{"s":"R18","m":1032,"r":-0.003},{"s":"R18","m":1037,"r":0.006},{"s":"R18","m":1042,"r":-0.008},{"s":"R18","m":1047,"r":0.004},{"s":"R18","m":1052,"r":0.007},
  {"s":"R24","m":933,"r":0.002},{"s":"R24","m":934,"r":-0.003},{"s":"R24","m":934.8,"r":0.005},{"s":"R24","m":935.5,"r":0.013},{"s":"R24","m":936,"r":0.01},{"s":"R24","m":936.6,"r":0.004},{"s":"R24","m":937.3,"r":-0.01},{"s":"R24","m":937.9,"r":-0.012},{"s":"R24","m":938.4,"r":-0.013},{"s":"R24","m":939,"r":-0.01},{"s":"R24","m":939.6,"r":-0.015},{"s":"R24","m":940,"r":-0.024},{"s":"R24","m":940.6,"r":-0.017},{"s":"R24","m":941.3,"r":-0.027},{"s":"R24","m":941.8,"r":-0.014},{"s":"R24","m":942.4,"r":-0.003},{"s":"R24","m":943,"r":-0.008}
 ]
},
"vconcat": [
 {
  "width": 420, "height": 242,
  "view": {"stroke": null},
  "title": {"text": "Distribución de satélites visibles", "dx": -35, "offset": 3},
  "layer": [
   {"data": {"name": "rings"},
    "mark": {"type": "arc", "theta": 0, "theta2": 6.2832, "filled": false, "strokeWidth": 0.8},
    "encoding": {
     "x": {"datum": 0, "type": "quantitative", "scale": {"domain": [-127.3, 177.5], "nice": false, "zero": false}, "axis": null},
     "y": {"datum": 0, "type": "quantitative", "scale": {"domain": [-85.6, 90], "nice": false, "zero": false}, "axis": null},
     "radius": {"field": "z", "type": "quantitative", "stack": null, "scale": {"type": "linear", "domain": [0, 90], "range": [0, 124], "zero": true}},
     "stroke": {"condition": {"test": "datum.z == 90", "value": "#333333"}, "value": "#dadada"}
    }},
   {"data": {"name": "spokes"},
    "transform": [{"calculate": "90*sin(datum.az*PI/180)", "as": "x1"}, {"calculate": "90*cos(datum.az*PI/180)", "as": "y1"}, {"calculate": "-datum.x1", "as": "x2"}, {"calculate": "-datum.y1", "as": "y2"}],
    "mark": {"type": "rule", "stroke": "#dadada", "strokeWidth": 0.8},
    "encoding": {"x": {"field": "x1", "type": "quantitative"}, "y": {"field": "y1", "type": "quantitative"}, "x2": {"field": "x2"}, "y2": {"field": "y2"}}},
   {"data": {"name": "tracks"},
    "transform": [{"calculate": "(90-datum.el)*sin(datum.az*PI/180)", "as": "px"}, {"calculate": "(90-datum.el)*cos(datum.az*PI/180)", "as": "py"}],
    "mark": {"type": "point", "filled": true, "size": 8, "opacity": 1},
    "encoding": {
     "x": {"field": "px", "type": "quantitative"}, "y": {"field": "py", "type": "quantitative"},
     "color": {"field": "s", "type": "nominal", "scale": {"domain": ["G05","G06","G12","G13","G14","G15","G17","G19","G24","G30","R05","R07","R09","R15","R17","R18","R24"], "range": ["#1f77b4","#aec7e8","#ff7f0e","#ffbb78","#2ca02c","#98df8a","#ff9896","#9467bd","#c5b0d5","#8c564b","#c49c94","#e377c2","#7f7f7f","#c7c7c7","#bcbd22","#dbdb8d","#17becf"]},
      "legend": {"title": null, "orient": "none", "legendX": 315.3, "legendY": 31, "symbolType": "circle", "symbolSize": 14, "symbolStrokeWidth": 2, "labelFontSize": 6, "rowPadding": -2, "padding": 7.5, "symbolOffset": 9.5, "labelOffset": 9}}
    }},
   {"data": {"name": "tracks"},
    "transform": [{"calculate": "(90-datum.el)*sin(datum.az*PI/180)", "as": "px"}, {"calculate": "(90-datum.el)*cos(datum.az*PI/180)", "as": "py"}],
    "mark": {"type": "line", "strokeWidth": 2.6, "interpolate": "catmull-rom", "strokeCap": "round"},
    "encoding": {
     "x": {"field": "px", "type": "quantitative"}, "y": {"field": "py", "type": "quantitative"},
     "order": {"field": "i", "type": "quantitative"}, "detail": {"field": "s", "type": "nominal"},
     "color": {"field": "s", "type": "nominal",
      "legend": {"title": null, "orient": "none", "legendX": 315.3, "legendY": 31, "symbolType": "circle", "symbolSize": 14, "symbolStrokeWidth": 2, "labelFontSize": 6, "rowPadding": -2, "padding": 7.5, "symbolOffset": 9.5, "labelOffset": 9}}
    }},
   {"data": {"name": "alab"},
    "transform": [{"calculate": "95*sin(datum.az*PI/180)", "as": "lx"}, {"calculate": "95*cos(datum.az*PI/180)", "as": "ly"}],
    "mark": {"type": "text", "fontSize": 6.5, "align": "center", "baseline": "middle", "color": "#262626"},
    "encoding": {"x": {"field": "lx", "type": "quantitative"}, "y": {"field": "ly", "type": "quantitative"}, "text": {"field": "t"}}},
   {"data": {"name": "elab"},
    "transform": [{"calculate": "(90-datum.el)*sin(22.5*PI/180)", "as": "lx"}, {"calculate": "(90-datum.el)*cos(22.5*PI/180)", "as": "ly"}],
    "mark": {"type": "text", "fontSize": 6.5, "align": "left", "baseline": "middle", "dy": -2.5, "dx": -1, "color": "#262626"},
    "encoding": {"x": {"field": "lx", "type": "quantitative"}, "y": {"field": "ly", "type": "quantitative"}, "text": {"field": "t"}}}
  ]
 },
 {
  "width": 420, "height": 90.7,
  "title": {"text": "Cantidad de satélites y GDOP", "offset": 1},
  "layer": [
   {"data": {"name": "count"},
    "mark": {"type": "rule", "strokeWidth": 2.6, "strokeDash": [0.01, 1.75], "strokeCap": "round"},
    "encoding": {
     "x": {"field": "m", "type": "quantitative", "scale": {"domain": [932.4, 1053.8], "nice": false, "zero": false},
      "axis": {"title": "Fecha", "values": [945, 960, 975, 990, 1005, 1020, 1035, 1050], "labelExpr": "format(floor(datum.value/60),'02d') + ':' + format(datum.value%60,'02d')"}},
     "x2": {"field": "m2"},
     "y": {"field": "n", "type": "quantitative", "scale": {"domain": [0, 16.1], "nice": false}, "axis": {"title": "Cantidad de satélites", "values": [0, 5, 10, 15]}},
     "color": {"datum": "Cantidad de satélites", "type": "nominal", "scale": {"range": ["#1f77b4"]},
      "legend": {"title": null, "orient": "bottom-left", "offset": 3.5, "symbolType": "circle", "symbolFillColor": "#1f77b4", "symbolStrokeWidth": 0, "symbolSize": 24, "labelFontSize": 7.3, "labelExpr": "['Cantidad de', 'satélites']", "padding": 4, "symbolOffset": 3.5, "labelOffset": 9}}
    }},
   {"data": {"name": "gdop"},
    "mark": {"type": "rule", "strokeWidth": 2.6, "strokeDash": [0.01, 1.75], "strokeCap": "round"},
    "encoding": {
     "x": {"field": "m", "type": "quantitative"},
     "x2": {"field": "m2"},
     "y": {"field": "g", "type": "quantitative", "scale": {"domain": [0, 5.86], "nice": false}, "axis": {"orient": "right", "title": "GDOP", "titleAngle": 270, "values": [0, 1, 2, 3, 4, 5], "format": ".1f", "grid": false}},
     "color": {"datum": "GDOP", "type": "nominal", "scale": {"range": ["#ffa500"]},
      "legend": {"title": null, "orient": "bottom-right", "offset": 2, "symbolType": "circle", "symbolFillColor": "#ffa500", "symbolStrokeWidth": 0, "symbolSize": 24, "labelFontSize": 6.5, "padding": 4, "symbolOffset": 3.5, "labelOffset": 9}}
    }}
  ],
  "resolve": {"scale": {"y": "independent", "color": "independent"}}
 },
 {
  "width": 420, "height": 89.3,
  "title": {"text": "Convergencia del procesamiento en el tiempo", "offset": -14},
  "layer": [
   {"data": {"name": "convp"},
    "mark": {"type": "circle", "size": 4.5, "opacity": 1},
    "encoding": {
     "x": {"field": "m", "type": "quantitative", "scale": {"domain": [932.4, 1053.8], "nice": false, "zero": false},
      "axis": {"title": "Fecha", "values": [945, 960, 975, 990, 1005, 1020, 1035, 1050], "labelExpr": "format(floor(datum.value/60),'02d') + ':' + format(datum.value%60,'02d')"}},
     "y": {"field": "v", "type": "quantitative", "scale": {"domain": [-0.1823, 0.1852], "nice": false, "zero": false},
      "axis": {"title": ["Diferencia con coordenadas", "finales [m]"], "values": [-0.1, 0, 0.1], "labelExpr": "replace(format(datum.value,'.3f'),'−','-')"}},
     "color": {"field": "c", "type": "nominal", "scale": {"domain": ["Norte", "Este", "Altura"], "range": ["#1f77b4", "#ff7f0e", "#2ca02c"]},
      "legend": {"title": null, "orient": "top-right", "offset": 3, "symbolType": "circle", "symbolSize": 10, "symbolStrokeWidth": 1.6, "labelFontSize": 6.6, "padding": 2.5, "rowPadding": 1.8, "symbolOffset": 4, "labelOffset": 10}}
    }},
   {"data": {"name": "convl"},
    "mark": {"type": "line", "strokeWidth": 2.2, "strokeDash": [0.01, 1.6], "strokeCap": "round"},
    "encoding": {
     "x": {"field": "m", "type": "quantitative"},
     "y": {"field": "v", "type": "quantitative"},
     "color": {"field": "c", "type": "nominal",
      "legend": {"title": null, "orient": "top-right", "offset": 3, "symbolType": "circle", "symbolSize": 10, "symbolStrokeWidth": 1.6, "labelFontSize": 6.6, "padding": 2.5, "rowPadding": 1.8, "symbolOffset": 4, "labelOffset": 10}}
    }}
  ]
 },
 {
  "width": 420, "height": 90,
  "title": {"text": "Residuos de fase", "offset": 0},
  "data": {"name": "res"},
  "mark": {"type": "point", "filled": false, "strokeWidth": 1.05, "size": 27, "opacity": 1},
  "encoding": {
   "x": {"field": "m", "type": "quantitative", "scale": {"domain": [932.4, 1053.8], "nice": false, "zero": false},
    "axis": {"title": "Fecha", "values": [945, 960, 975, 990, 1005, 1020, 1035, 1050], "labelExpr": "format(floor(datum.value/60),'02d') + ':' + format(datum.value%60,'02d')"}},
   "y": {"field": "r", "type": "quantitative", "scale": {"domain": [-0.0488, 0.061], "nice": false, "zero": false},
    "axis": {"title": "Residuos [m]", "values": [-0.04, -0.02, 0, 0.02, 0.04, 0.06], "labelExpr": "replace(format(datum.value,'.3f'),'−','-')"}},
   "color": {"field": "s", "type": "nominal", "scale": {"domain": ["G05","G06","G12","G13","G14","G15","G17","G19","G24","G30","R05","R07","R09","R15","R17","R18","R24"], "range": ["#1f77b4","#aec7e8","#ff7f0e","#ffbb78","#2ca02c","#98df8a","#ff9896","#9467bd","#c5b0d5","#8c564b","#c49c94","#e377c2","#7f7f7f","#c7c7c7","#bcbd22","#dbdb8d","#17becf"]},
    "legend": {"title": null, "orient": "none", "legendX": -33, "legendY": 113, "direction": "horizontal", "columns": 17, "symbolSize": 24, "symbolStrokeWidth": 1, "labelFontSize": 5.8, "columnPadding": 4.5, "labelOffset": 4, "padding": 3}},
   "shape": {"field": "s", "type": "nominal", "scale": {"domain": ["G05","G06","G12","G13","G14","G15","G17","G19","G24","G30","R05","R07","R09","R15","R17","R18","R24"], "range": ["M-1,0H1M0,-1V1","M-1,0H1M0,-1V1","M-1,0H1M0,-1V1","M-1,0H1M0,-1V1","M-1,0H1M0,-1V1","M-1,0H1M0,-1V1","M-1,0H1M0,-1V1","M-1,0H1M0,-1V1","M-1,0H1M0,-1V1","M-1,0H1M0,-1V1","M-0.8,-0.8L0.8,0.8M-0.8,0.8L0.8,-0.8","M-0.8,-0.8L0.8,0.8M-0.8,0.8L0.8,-0.8","M-0.8,-0.8L0.8,0.8M-0.8,0.8L0.8,-0.8","M-0.8,-0.8L0.8,0.8M-0.8,0.8L0.8,-0.8","M-0.8,-0.8L0.8,0.8M-0.8,0.8L0.8,-0.8","M-0.8,-0.8L0.8,0.8M-0.8,0.8L0.8,-0.8","M-0.8,-0.8L0.8,0.8M-0.8,0.8L0.8,-0.8"]}}
  }
 },
 {
  "width": 420, "height": 80,
  "view": {"stroke": null},
  "layer": [
   {"data": {"values": [{"t": "Ante cualquier consulta o inquietud relacionada con el reporte de procesamiento contactarse con:"}]},
    "mark": {"type": "text", "font": "Liberation Sans", "fontSize": 8.4, "align": "left", "baseline": "middle", "color": "#000000"},
    "encoding": {"text": {"field": "t"},
     "x": {"datum": -19, "type": "quantitative", "scale": {"domain": [0, 420], "nice": false, "zero": false}, "axis": null},
     "y": {"datum": 23, "type": "quantitative", "scale": {"domain": [0, 80], "reverse": true, "nice": false, "zero": false}, "axis": null}}},
   {"data": {"values": [{"t": "ppp@ign.gob.ar"}]},
    "mark": {"type": "text", "font": "Liberation Sans", "fontSize": 8.4, "fontWeight": "bold", "align": "left", "baseline": "middle", "color": "#1a1ae6"},
    "encoding": {"text": {"field": "t"}, "x": {"datum": 353, "type": "quantitative"}, "y": {"datum": 23, "type": "quantitative"}}},
   {"data": {"values": [{"t": "u"}]},
    "mark": {"type": "rule", "color": "#1a1ae6", "strokeWidth": 0.8},
    "encoding": {"x": {"datum": 353, "type": "quantitative"}, "x2": {"datum": 419}, "y": {"datum": 27.8, "type": "quantitative"}}},
   {"data": {"values": [{"t": "PPP-Ar v1.1.0"}]},
    "mark": {"type": "text", "font": "Liberation Sans", "fontSize": 7.8, "align": "center", "baseline": "middle", "color": "#000000"},
    "encoding": {"text": {"field": "t"}, "x": {"datum": 194, "type": "quantitative"}, "y": {"datum": 77, "type": "quantitative"}}},
   {"data": {"values": [{"t": "2 de 2"}]},
    "mark": {"type": "text", "font": "Liberation Sans", "fontSize": 7.8, "align": "center", "baseline": "middle", "color": "#000000"},
    "encoding": {"text": {"field": "t"}, "x": {"datum": 426, "type": "quantitative"}, "y": {"datum": 77, "type": "quantitative"}}},
   {"data": {"values": [{"t": "marco"}]},
    "mark": {"type": "rule", "color": "#111111", "strokeWidth": 2},
    "encoding": {"x": {"datum": -108, "type": "quantitative"}, "y": {"datum": -756, "type": "quantitative"}, "y2": {"datum": 109}}},
   {"data": {"values": [{"t": "marco"}]},
    "mark": {"type": "rule", "color": "#111111", "strokeWidth": 2},
    "encoding": {"x": {"datum": -108, "type": "quantitative"}, "x2": {"datum": 494}, "y": {"datum": -756, "type": "quantitative"}}}
  ]
 }
]
}
